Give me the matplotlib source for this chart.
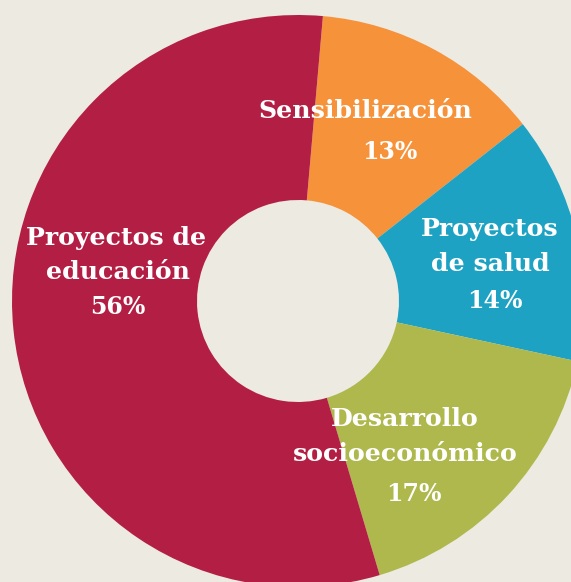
import numpy as np
import matplotlib.pyplot as plt

categorias = ['Sensibilización', 'Proyectos\nde salud', 'Desarrollo\nsocioeconómico', 'Proyectos de\neducación']
valores = [13, 14, 17, 56]
colores = ['#F6923A', '#1EA2C3', '#AEB84C', '#B31F44']

W, H = 571, 582
fig = plt.figure(figsize=(W / 100, H / 100), dpi=100)
fig.patch.set_facecolor('#EDEAE2')
ax = fig.add_axes([0, 0, 1, 1])
ax.set_facecolor('#EDEAE2')

# centro y radios en pixeles
cx, cy = 298, H - 301
R, r = 286, 101

ax.pie(valores, colors=colores, startangle=85, counterclock=False,
       center=(cx, cy), radius=R,
       wedgeprops=dict(width=R - r, edgecolor='none'))

ax.set_xlim(0, W)
ax.set_ylim(0, H)
ax.set_aspect('equal')
ax.axis('off')

# posiciones de las etiquetas (pixeles, y desde arriba), una por renglon
pos_lineas = [[(365, 111)],
              [(490, 229), (490, 264)],
              [(405, 419), (405, 454)],
              [(116, 238), (118, 272)]]
pos_pct = [(390, 152), (495, 301), (414, 494), (118, 307)]

fuente = dict(family='DejaVu Serif', weight='bold', color='white',
              ha='center', va='center')
for nombre, v, lineas, (x2, y2) in zip(categorias, valores, pos_lineas, pos_pct):
    for txt, (x1, y1) in zip(nombre.split('\n'), lineas):
        ax.text(x1, H - y1, txt, size=18.2, **fuente)
    ax.text(x2, H - y2, f'{v}%', size=17, **fuente)

fig.savefig('out.png', dpi=100, facecolor=fig.get_facecolor())
